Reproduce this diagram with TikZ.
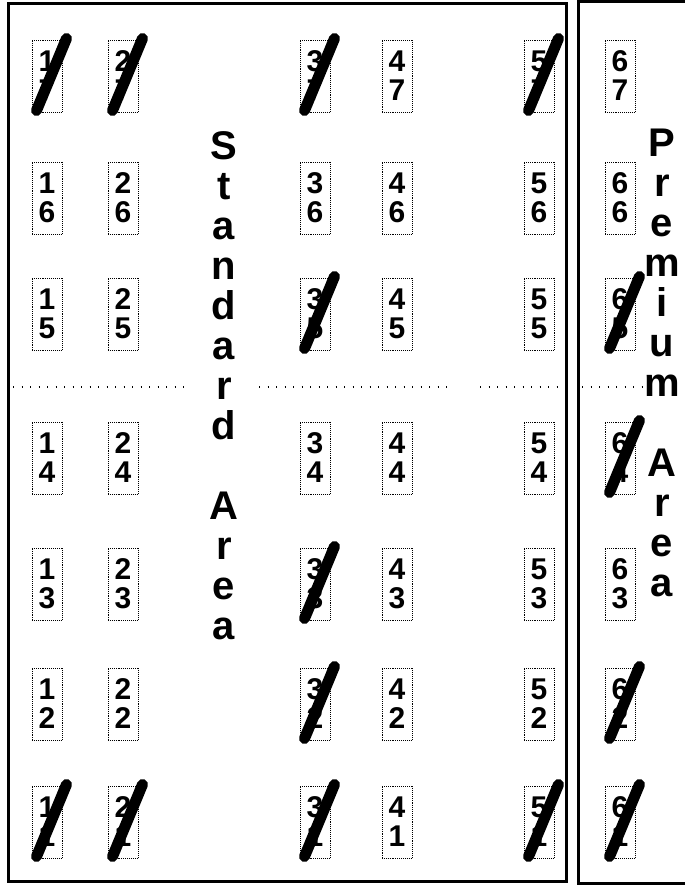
\documentclass[tikz,border=0pt]{standalone}
\usepackage{fontspec}
\setmainfont{Liberation Sans}
\usetikzlibrary{positioning}
\tikzset{
  seat/.style={draw, densely dotted, line width=0.9pt, minimum width=30pt, minimum height=72pt,
    inner sep=0pt, align=center, font=\fontsize{30}{29}\selectfont\bfseries},
  taken/.style={line width=11pt, line cap=round},
  hall/.style={line width=3pt},
  areaname/.style={align=center, font=\fontsize{40}{40}\selectfont\bfseries},
  divider/.style={line width=1.3pt, dash pattern=on 1.3pt off 7.2pt}
}

\begin{document}
\begin{tikzpicture}[x=1pt, y=1pt]
    \useasboundingbox (0,0) rectangle (685,886);

    % Halls
    \draw[hall] (8,4) rectangle (566,882);
    \draw[hall] (578,2) rectangle (694,884);

    % Divider between rows 4 and 5
    \draw[divider] (13,499) -- (189,499);
    \draw[divider] (259,499) -- (452,499);
    \draw[divider] (480,499) -- (563,499);
    \draw[divider] (582,499) -- (645,499);

    % Seats
    \foreach \c/\x in {1/47, 2/123, 3/315, 4/397, 5/539, 6/620} {
      \foreach \r/\y in {7/810, 6/688, 5/572, 4/428, 3/302, 2/182, 1/64} {
        \node[seat] (s\c\r) at (\x,\y) {\c\\\r};
      }
    }

    % Seats already taken
    \foreach \s in {17, 27, 37, 57, 35, 65, 64, 33, 32, 62, 11, 21, 31, 51, 61} {
      \draw[taken] ([shift={(5,2)}]s\s.south west) -- ([shift={(4,1)}]s\s.north east);
    }

    % Area names
    \node[areaname] (standard) at (224,500) {S\\t\\a\\n\\d\\a\\r\\d\\[40pt]A\\r\\e\\a};
    \node[areaname] (premium) at (662,523) {P\\r\\e\\m\\i\\u\\m\\[40pt]A\\r\\e\\a};
  \end{tikzpicture}
\end{document}
